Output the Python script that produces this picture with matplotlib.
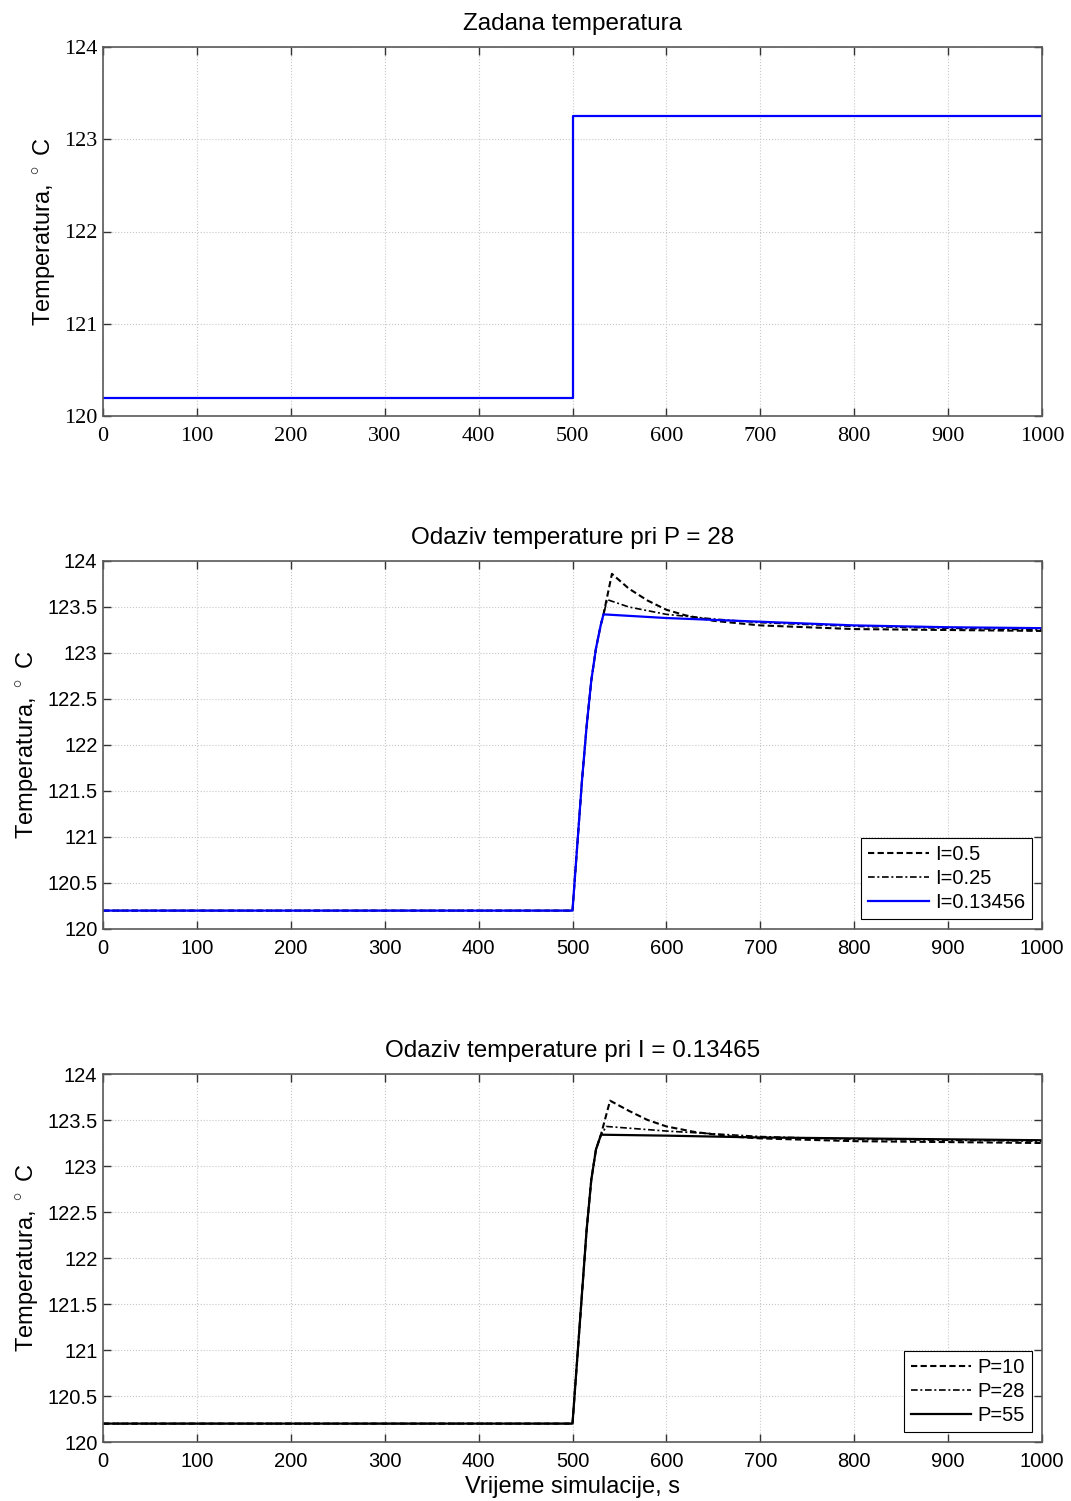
import matplotlib
matplotlib.use("Agg")
import matplotlib.pyplot as plt
import numpy as np

plt.rcParams['font.family'] = ['Liberation Sans', 'DejaVu Sans']
plt.rcParams['mathtext.fontset'] = 'custom'
plt.rcParams['mathtext.rm'] = 'Liberation Sans'

# --- Data ---
# Setpoint
sp_t = [0, 500, 500, 1000]
sp_v = [120.2, 120.2, 123.25, 123.25]

# Panel 2: P = 28, varying I
rise_t = [0, 500, 505, 510, 515, 520, 525, 530, 533]
rise_v = [120.2, 120.2, 120.9, 121.6, 122.2, 122.7, 123.05, 123.3, 123.42]

i05_t = rise_t + [542, 560, 580, 600, 620, 650, 700, 800, 900, 1000]
i05_v = rise_v + [123.86, 123.7, 123.57, 123.47, 123.41, 123.35, 123.3, 123.26, 123.25, 123.24]
i025_t = rise_t + [537, 560, 600, 650, 700, 800, 900, 1000]
i025_v = rise_v + [123.58, 123.5, 123.42, 123.37, 123.33, 123.29, 123.27, 123.25]
i013_t = rise_t + [600, 700, 800, 900, 1000]
i013_v = rise_v + [123.38, 123.34, 123.3, 123.28, 123.27]

# Panel 3: I = 0.13465, varying P
rise3_t = [0, 500, 505, 510, 515, 520, 525, 530]
rise3_v = [120.2, 120.2, 120.9, 121.6, 122.3, 122.85, 123.18, 123.33]
p10_t = rise3_t + [540, 560, 580, 600, 630, 670, 700, 800, 900, 1000]
p10_v = rise3_v + [123.71, 123.6, 123.5, 123.43, 123.37, 123.32, 123.3, 123.27, 123.26, 123.25]
p28_t = rise3_t + [536, 600, 700, 800, 900, 1000]
p28_v = rise3_v + [123.43, 123.38, 123.32, 123.29, 123.28, 123.27]
p55_t = rise3_t + [531, 600, 700, 800, 900, 1000]
p55_v = rise3_v + [123.34, 123.33, 123.31, 123.3, 123.29, 123.28]

xticks = [0, 100, 200, 300, 400, 500, 600, 700, 800, 900, 1000]
yticks_top = [120, 121, 122, 123, 124]
yticks_low = [120, 120.5, 121, 121.5, 122, 122.5, 123, 123.5, 124]
ylabels_low = ['120', '120.5', '121', '121.5', '122', '122.5', '123', '123.5', '124']

fig = plt.figure(figsize=(10.71, 15.01), dpi=100)
W, H = 1071, 1501
def add_ax(top, bottom):
    return fig.add_axes([103 / W, 1 - bottom / H, (1042 - 103) / W, (bottom - top) / H])

ax1 = add_ax(47, 416)
ax2 = add_ax(561, 929)
ax3 = add_ax(1074, 1442)

DASH = (0, (3.0, 1.6))
DASHDOT = (0, (4.0, 1.6, 1.2, 1.6))

def style(ax, yticks, serif=False):
    ax.set_xlim(0, 1000)
    ax.set_ylim(120, 124)
    ax.set_xticks(xticks)
    ax.set_yticks(yticks)
    ax.grid(True, linestyle=':', color='#c8c8c8', linewidth=0.8)
    ax.tick_params(direction='in', top=True, right=True, length=6, width=1,
                   color='#333333', labelsize=16 if serif else 14.5)
    ax.tick_params(axis='x', pad=8 if serif else 7)
    ax.tick_params(axis='y', pad=4)
    for s in ax.spines.values():
        s.set_color('#5a5a5a')
        s.set_linewidth(1.2)
    if serif:
        for lab in ax.get_xticklabels() + ax.get_yticklabels():
            lab.set_family('Liberation Serif')

def legend(ax):
    leg = ax.legend(loc='lower right', fontsize=14.5, fancybox=False, edgecolor='black',
                    framealpha=1, borderaxespad=0.5, handlelength=3.0, handletextpad=0.3,
                    labelspacing=0.25, borderpad=0.35)
    leg.get_frame().set_linewidth(0.8)
    return leg

ax1.plot(sp_t, sp_v, color='#0000ff', linewidth=1.6)
style(ax1, yticks_top, serif=True)
ax1.set_title('Zadana temperatura', fontsize=17.5, pad=12)
ax1.set_ylabel('Temperatura, $^\\circ$ C', fontsize=17, labelpad=4)

ax2.plot(i05_t, i05_v, color='black', linestyle=DASH, linewidth=1.5, label='I=0.5')
ax2.plot(i025_t, i025_v, color='black', linestyle=DASHDOT, linewidth=1.2, label='I=0.25')
ax2.plot(i013_t, i013_v, color='#0000ff', linestyle='-', linewidth=1.6, label='I=0.13456')
style(ax2, yticks_low)
ax2.set_yticklabels(ylabels_low)
ax2.set_title('Odaziv temperature pri P = 28', fontsize=17.5, pad=12)
ax2.set_ylabel('Temperatura, $^\\circ$ C', fontsize=17, labelpad=4)
leg = legend(ax2)
leg.get_frame().set_boxstyle('square', pad=0.0)

ax3.plot(p10_t, p10_v, color='black', linestyle=DASH, linewidth=1.5, label='P=10')
ax3.plot(p28_t, p28_v, color='black', linestyle=DASHDOT, linewidth=1.2, label='P=28')
ax3.plot(p55_t, p55_v, color='black', linestyle='-', linewidth=1.6, label='P=55')
style(ax3, yticks_low)
ax3.set_yticklabels(ylabels_low)
ax3.set_title('Odaziv temperature pri I = 0.13465', fontsize=17.5, pad=12)
ax3.set_ylabel('Temperatura, $^\\circ$ C', fontsize=17, labelpad=4)
ax3.set_xlabel('Vrijeme simulacije, s', fontsize=17, labelpad=4)
legend(ax3)

fig.savefig('out.png', dpi=100)
